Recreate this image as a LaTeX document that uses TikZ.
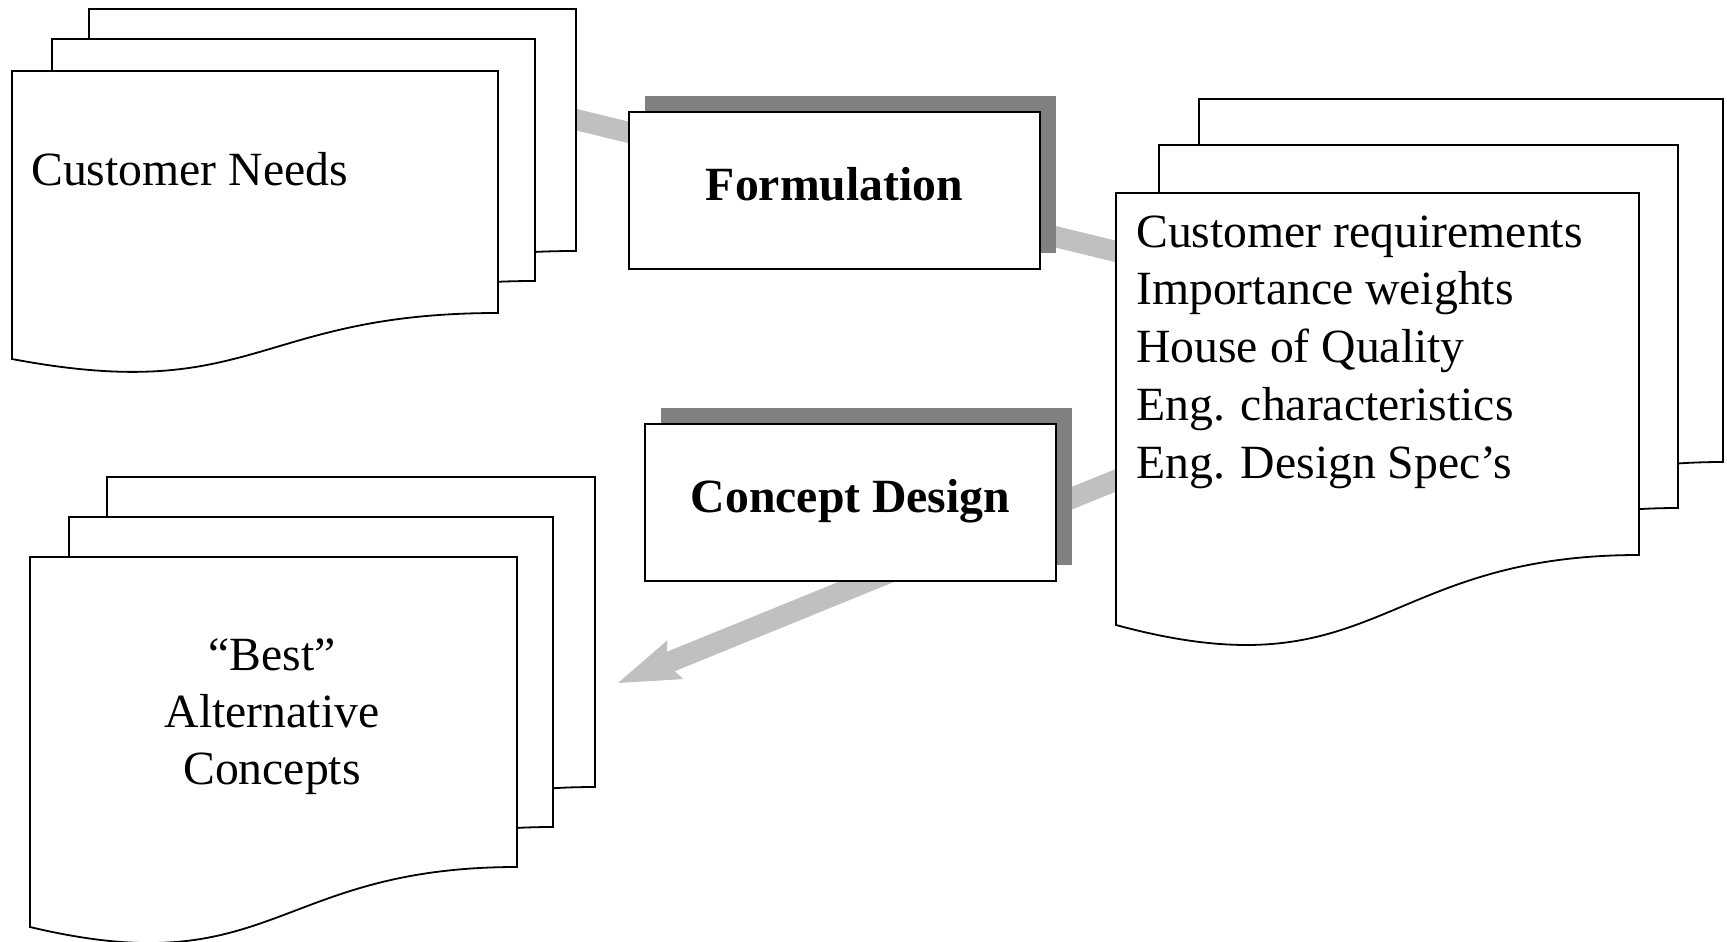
\documentclass[tikz,border=0pt]{standalone}
\usepackage{fontspec}
\setmainfont{Liberation Serif}
\usetikzlibrary{arrows.meta}
\definecolor{linegray}{HTML}{C0C0C0}
\definecolor{shadowgray}{HTML}{808080}
% document sheet: left x, top y, width, right-bottom height, left-bottom height, control depth
\newcommand\docsheet[6]{%
  \draw[sheet] (#1,#2) -- ({#1+#3},#2) -- ({#1+#3},{#2+#4})
    .. controls ({#1+#3/2},{#2+#4}) and ({#1+#3/2},{#2+#6}) .. (#1,{#2+#5}) -- cycle;}
\begin{document}
\begin{tikzpicture}[x=1pt,y=-1pt,
  sheet/.style={draw=black, fill=white, line width=1.8pt, line join=miter},
  conn/.style={draw=linegray, line width=21pt},
  txt/.style={inner sep=0pt, font=\fontsize{47.7}{57.75}\selectfont},
  procbox/.style={draw=black, fill=white, line width=2pt, minimum width=411pt,
    minimum height=157pt, inner sep=0pt, text height=32pt, text depth=13pt,
    font=\bfseries\fontsize{47.7}{57.75}\selectfont,
    preaction={fill=shadowgray, transform canvas={xshift=16pt,yshift=16pt}}}]
\useasboundingbox (0,0) rectangle (1727,942);

% connector end points
\coordinate (cn) at (500,101);
\coordinate (req) at (1200,272);
\coordinate (reqb) at (1200,446);
\coordinate (best) at (618,683);

% connectors (behind everything)
\draw[conn] (cn) -- (req);
\draw[conn, -{Stealth[length=62pt,width=42pt,inset=10pt,line width=0pt]}] (reqb) -- (best);

% Customer Needs stack
\docsheet{89}{9}{487}{242}{288}{334}
\docsheet{52}{39}{483}{242}{288}{334}
\docsheet{12}{71}{486}{242}{288}{334}
\node[txt, anchor=base west] (cnlabel) at (31,185) {Customer Needs};

% Requirements stack
\docsheet{1199}{99}{524}{363}{432}{503}
\docsheet{1159}{145}{519}{363}{432}{503}
\docsheet{1116}{193}{523}{362}{432}{503}
\foreach \t [count=\i] in {Customer requirements, Importance weights, House of Quality, Eng. characteristics, Eng. Design Spec’s}
  \node[txt, anchor=base west] (req\i) at (1136,{247+57.75*(\i-1)}) {\t};

% Best alternative concepts stack
\docsheet{107}{477}{488}{310}{370}{428}
\docsheet{69}{517}{484}{310}{370}{428}
\docsheet{30}{557}{487}{310}{370}{428}
\node[txt, anchor=base] (best1) at (272,670) {“Best”};
\node[txt, anchor=base] (best2) at (272,727) {Alternative};
\node[txt, anchor=base] (best3) at (272,784) {Concepts};

% process boxes
\node[procbox] (form) at (834.5,190.5) {Formulation};
\node[procbox] (cdes) at (850.5,502.5) {Concept Design};
\end{tikzpicture}
\end{document}
